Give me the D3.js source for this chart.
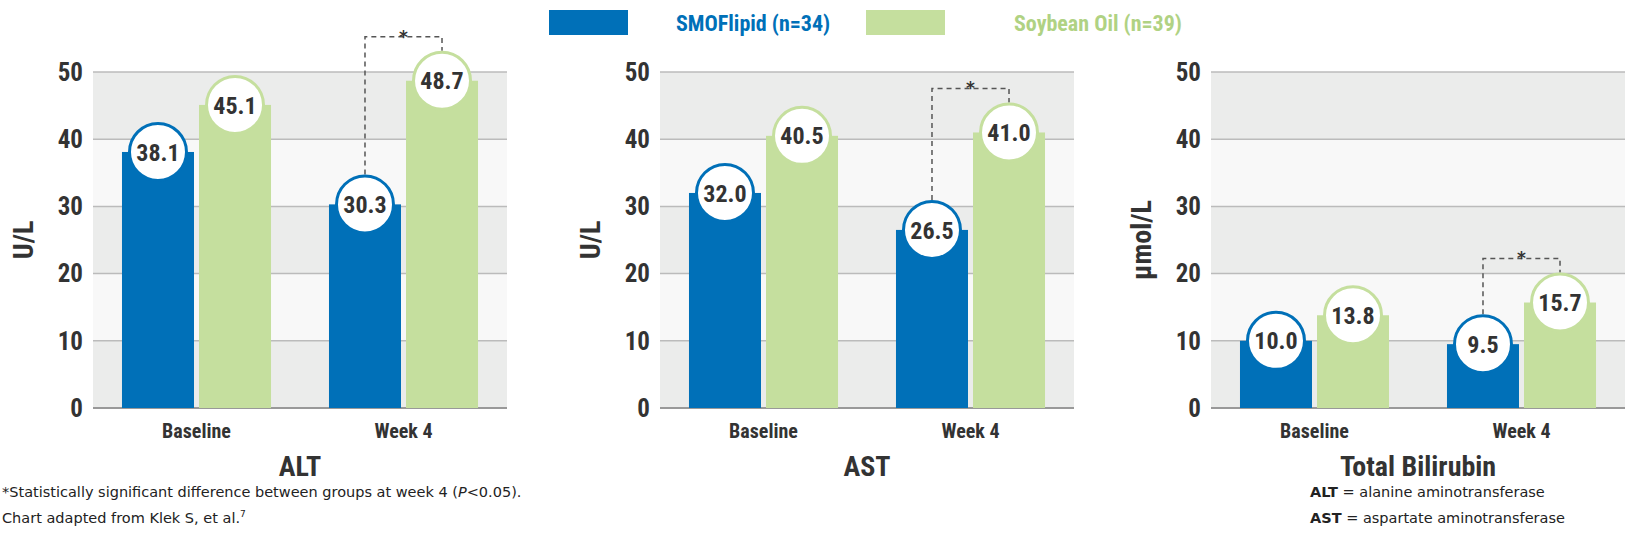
<!DOCTYPE html><html><head><meta charset="utf-8">
<script src="https://cdn.jsdelivr.net/npm/d3@7"></script>
<style>body{margin:0;background:#fff}</style></head><body>
<svg id="c" width="1647" height="551"></svg>
<script>
const categories=["Baseline","Week 4"];
const seriesNames=["SMOFlipid (n=34)","Soybean Oil (n=39)"];
const panelTitles=["ALT","AST","Total Bilirubin"];
const panelUnits=["U/L","U/L","µmol/L"];
const smof=[[38.1,30.3],[32.0,26.5],[10.0,9.5]];
const soy=[[45.1,48.7],[40.5,41.0],[13.8,15.7]];
const yTicks=[0,10,20,30,40,50];
const colors=["#0070b8","#c5df9e"];
const legendText=["#0070b8","#b0d283"];
const font="'Liberation Sans Narrow','Roboto Condensed',Roboto,sans-serif";
const svg=d3.select("#c");
const panelX=[[93,507],[660,1074],[1211,1625]];
const y=d3.scaleLinear().domain([0,50]).range([408,72]);
panelX.forEach((px,p)=>{
  const g=svg.append("g");
  const x=d3.scaleBand().domain(categories).range(px).paddingInner(0.28).paddingOuter(0.14);
  for(let i=0;i<5;i++){g.append("rect").attr("x",px[0]).attr("width",px[1]-px[0]).attr("y",y((i+1)*10)).attr("height",y(i*10)-y((i+1)*10)).attr("fill",i%2==0?"#ebeceb":"#f8f8f8");}
  yTicks.forEach(t=>{g.append("line").attr("x1",px[0]).attr("x2",px[1]).attr("y1",y(t)).attr("y2",y(t)).attr("stroke",t==0?"#999":"#bbb").attr("stroke-width",t==0?2:1.5);
    g.append("text").attr("x",px[0]-10).attr("y",y(t)).attr("dy","0.35em").attr("text-anchor","end").attr("font-family",font).attr("font-weight","bold").attr("font-size",25).attr("fill","#333").text(t);});
  const bw=(x.bandwidth()-5)/2;
  const data=[smof[p],soy[p]];
  const cx=(ci,s)=>x(categories[ci])+s*(bw+5)+bw/2;
  data.forEach((vals,s)=>vals.forEach((v,ci)=>{
    g.append("rect").attr("x",x(categories[ci])+s*(bw+5)).attr("width",bw).attr("y",y(v)).attr("height",y(0)-y(v)).attr("fill",colors[s]);
  }));
  const top=y(soy[p][1])-44;
  g.append("path").attr("d",`M${cx(1,0)},${y(smof[p][1])-30}V${top}H${cx(1,1)}V${y(soy[p][1])-30}`).attr("fill","none").attr("stroke","#555").attr("stroke-width",1.5).attr("stroke-dasharray","5,4");
  g.append("text").attr("x",(cx(1,0)+cx(1,1))/2).attr("y",top+6).attr("text-anchor","middle").attr("font-family","DejaVu Sans").attr("font-weight","bold").attr("font-size",17).attr("fill","#333").text("*");
  data.forEach((vals,s)=>vals.forEach((v,ci)=>{
    g.append("circle").attr("cx",cx(ci,s)).attr("cy",y(v)).attr("r",28.5).attr("fill","#fff").attr("stroke",colors[s]).attr("stroke-width",3);
    g.append("text").attr("x",cx(ci,s)).attr("y",y(v)).attr("dy","0.36em").attr("text-anchor","middle").attr("font-family",font).attr("font-weight","bold").attr("font-size",24).attr("fill","#333").text(v.toFixed(1));
  }));
  categories.forEach(c=>g.append("text").attr("x",x(c)+x.bandwidth()/2).attr("y",438).attr("text-anchor","middle").attr("font-family",font).attr("font-weight","bold").attr("font-size",20).attr("fill","#333").text(c));
  g.append("text").attr("x",(px[0]+px[1])/2).attr("y",476).attr("text-anchor","middle").attr("font-family",font).attr("font-weight","bold").attr("font-size",28).attr("fill","#333").text(panelTitles[p]);
  g.append("text").attr("transform",`translate(${px[0]-60},${y(25)}) rotate(-90)`).attr("text-anchor","middle").attr("font-family",font).attr("font-weight","bold").attr("font-size",28).attr("fill","#333").text(panelUnits[p]);
});
[[549,676],[866,1014]].forEach((l,i)=>{
  svg.append("rect").attr("x",l[0]).attr("y",10).attr("width",79).attr("height",25).attr("fill",colors[i]);
  svg.append("text").attr("x",l[1]).attr("y",31).attr("font-family",font).attr("font-weight","bold").attr("font-size",22).attr("fill",legendText[i]).text(seriesNames[i]);
});
const f=svg.append("g").attr("font-family","DejaVu Sans").attr("font-size",14.5).attr("fill","#222");
const t1=f.append("text").attr("x",2).attr("y",497);
t1.append("tspan").text("*Statistically significant difference between groups at week 4 (");
t1.append("tspan").attr("font-style","italic").text("P");
t1.append("tspan").text("<0.05).");
const t2=f.append("text").attr("x",2).attr("y",523);
t2.append("tspan").text("Chart adapted from Klek S, et al.");
t2.append("tspan").attr("font-size",9).attr("dy",-6).text("7");
[["ALT"," = alanine aminotransferase",497],["AST"," = aspartate aminotransferase",523]].forEach(r=>{
  const t=f.append("text").attr("x",1310).attr("y",r[2]);
  t.append("tspan").attr("font-weight","bold").text(r[0]);t.append("tspan").text(r[1]);
});
</script></body></html>
